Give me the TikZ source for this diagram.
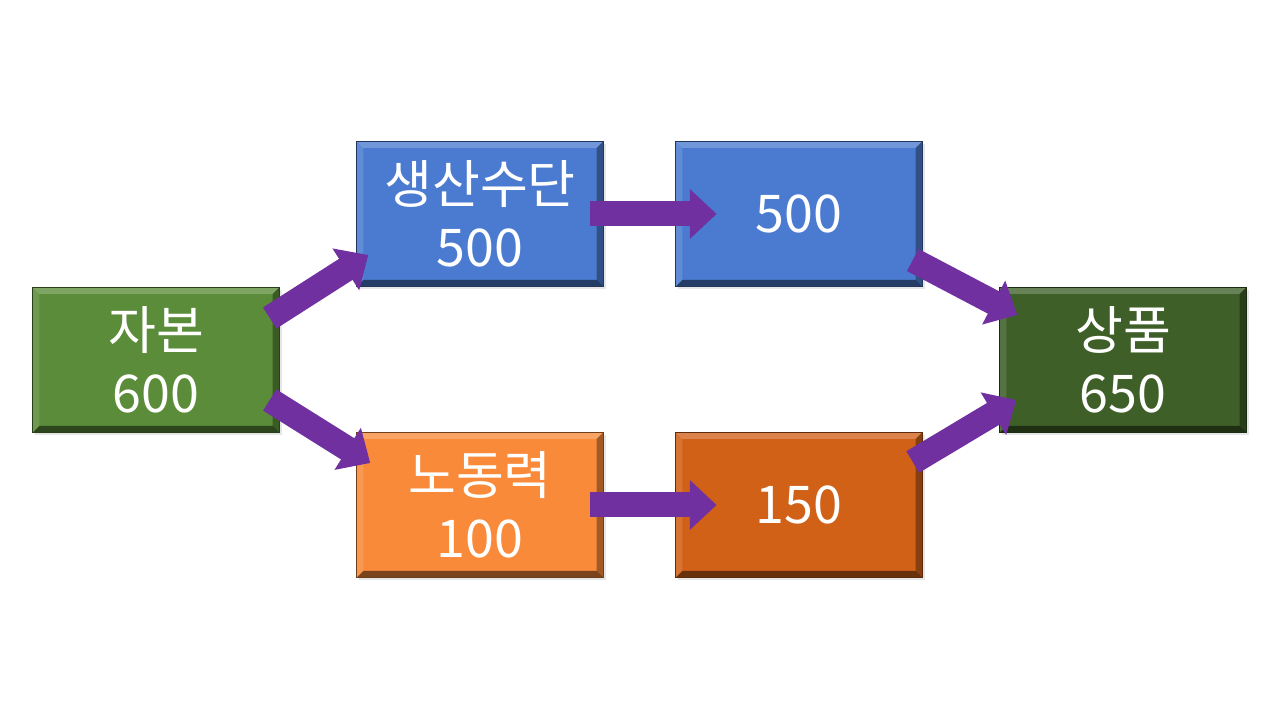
\documentclass[tikz,border=0pt]{standalone}
\usepackage{fontspec}
\setmainfont{Noto Sans CJK KR}
\usetikzlibrary{arrows.meta,shadows}

\definecolor{capgreen}{HTML}{5B8C3A}
\definecolor{meansblue}{HTML}{4A7BD0}
\definecolor{labourorange}{HTML}{F88A3A}
\definecolor{burnt}{HTML}{D26118}
\definecolor{goodsgreen}{HTML}{3E5F28}
\definecolor{flowpurple}{HTML}{7030A0}

\tikzset{
  box/.style={fill=#1, draw=#1!45!black, line width=0.6pt,
    minimum width=185pt, minimum height=109pt, inner sep=0pt,
    text=white, align=center, font=\fontsize{39}{47}\selectfont,
    drop shadow={opacity=.2, shadow xshift=2pt, shadow yshift=-2pt},
    path picture={
      \coordinate (nw) at (path picture bounding box.north west);
      \coordinate (ne) at (path picture bounding box.north east);
      \coordinate (sw) at (path picture bounding box.south west);
      \coordinate (se) at (path picture bounding box.south east);
      \fill[white,opacity=.22] (nw) -- (ne) -- ([shift={(-5pt,-5pt)}]ne) -- ([shift={(5pt,-5pt)}]nw) -- cycle;
      \fill[white,opacity=.12] (nw) -- ([shift={(5pt,-5pt)}]nw) -- ([shift={(5pt,5pt)}]sw) -- (sw) -- cycle;
      \fill[black,opacity=.35] (ne) -- (se) -- ([shift={(-5pt,5pt)}]se) -- ([shift={(-5pt,-5pt)}]ne) -- cycle;
      \fill[black,opacity=.5] (sw) -- ([shift={(5pt,5pt)}]sw) -- ([shift={(-5pt,5pt)}]se) -- (se) -- cycle;
    }},
  flow/.style={draw=flowpurple, line width=18.75pt,
    -{Triangle[length=20pt,width=36pt]}}
}

\begin{document}
\begin{tikzpicture}[x=0.75pt,y=0.75pt]
  \useasboundingbox (0,0) rectangle (1280,720);
  % boxes
  \node[box=capgreen] (capital) at (156,360) {자본\\600};
  \node[box=meansblue] (means) at (480,506) {생산수단\\500};
  \node[box=meansblue] (meansout) at (799,506) {500};
  \node[box=labourorange] (labour) at (480,215) {노동력\\100};
  \node[box=burnt] (labourout) at (799,215) {150};
  \node[box=goodsgreen] (goods) at (1123,360) {상품\\650};

  % flows
  \draw[flow] ([shift={(-10,42)}]capital.east) -- ([shift={(12,-41)}]means.west);
  \draw[flow] ([shift={(-10,-40)}]capital.east) -- ([shift={(14,42)}]labour.west);
  \draw[flow] ([xshift=-10]means.east) -- ([xshift=31]meansout.west);
  \draw[flow] ([xshift=-10]labour.east) -- ([xshift=31]labourout.west);
  \draw[flow] ([shift={(-10,-46)}]meansout.east) -- ([shift={(18,45)}]goods.west);
  \draw[flow] ([shift={(-10,43)}]labourout.east) -- ([shift={(17,-40)}]goods.west);
\end{tikzpicture}
\end{document}
